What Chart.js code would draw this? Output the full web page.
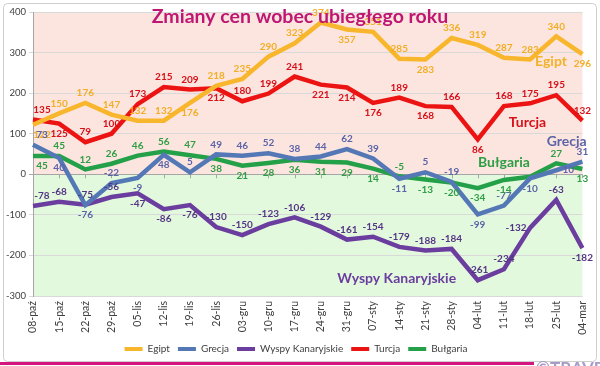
<!DOCTYPE html>
<html>
<head>
<meta charset="utf-8">
<script src="https://cdn.jsdelivr.net/npm/chart.js@4.4.1/dist/chart.umd.min.js"></script>
<style>
  html, body { margin: 0; padding: 0; background: #ffffff; }
  #wrap { width: 600px; height: 366px; position: relative; }
  canvas { display: block; }
</style>
</head>
<body>
<div id="wrap"><canvas id="c" width="600" height="366"></canvas></div>
<script>
// ---------- data ----------
const categories = ['08-paź','15-paź','22-paź','29-paź','05-lis','12-lis','19-lis','26-lis','03-gru','10-gru','17-gru','24-gru','31-gru','07-sty','14-sty','21-sty','28-sty','04-lut','11-lut','18-lut','25-lut','04-mar'];
const egipt    = [122,150,176,147,132,132,176,218,235,290,323,374,357,351,285,283,336,319,287,283,340,296];
const grecja   = [73,40,-76,-22,-9,48,5,49,46,52,38,44,62,39,-11,5,-19,-99,-77,-10,10,31];
const wyspy    = [-78,-68,-75,-56,-47,-86,-76,-130,-150,-123,-106,-129,-161,-154,-179,-188,-184,-261,-234,-132,-63,-182];
const turcja   = [135,125,79,100,173,215,209,212,180,199,241,221,214,176,189,168,166,86,168,175,195,132];
const bulgaria = [45,45,12,26,46,56,47,38,21,28,36,31,29,14,-5,-13,-20,-34,-14,-6,27,13];
const yTickValues = [400,300,200,100,0,-100,-200,-300];
const seriesNames = ['Egipt','Grecja','Wyspy Kanaryjskie','Turcja','Bułgaria'];
const titleText = 'Zmiany cen wobec ubiegłego roku';

// ---------- styling (not data) ----------
const FONT = 'Lato, "Open Sans", sans-serif';
const lineColors  = ['#F8B62C','#5478B6','#6A3D9E','#EC1313','#23A048'];
const labelColors = ['#F2AE25','#5B64A8','#553585','#D8101A','#2E9E45'];
// label placement: a=above, b=below, r=right, l=left, n=none
const labelPlace = [
  'baaaaabaaaaabaabaaaaab',
  'abbabbaaaaaaaabaababra',
  'aaaabbbaaaaaaaaaaaalab',
  'abaaaaabaaabbbababaaaa',
  'baaaaaabbbbbbbabbbbnab'
];
// in-plot series names, anchored in data space: [category index, value]
const nameAnchors = [
  {t:'Egipt', i:19.8, v:277, c:'#F2B22A'},
  {t:'Turcja', i:18.9, v:128, c:'#D8101A'},
  {t:'Grecja', i:20.4, v:80, c:'#5B64A8'},
  {t:'Bułgaria', i:18.0, v:28, c:'#2E9E45'},
  {t:'Wyspy Kanaryjskie', i:13.9, v:-258, c:'#6A3D9E'}
];

const allSeries = [egipt, grecja, wyspy, turcja, bulgaria];

const bgPlugin = {
  id: 'bg',
  beforeDraw(chart) {
    const {ctx, chartArea: a, scales: {y}} = chart;
    ctx.save();
    ctx.fillStyle = '#ffffff';
    ctx.fillRect(0, 0, chart.width, chart.height);
    const y0 = y.getPixelForValue(0);
    ctx.fillStyle = '#FDE5DF';
    ctx.fillRect(a.left, a.top, a.right - a.left, y0 - a.top);
    ctx.fillStyle = '#E3F9DE';
    ctx.fillRect(a.left, y0, a.right - a.left, a.bottom - y0);
    ctx.restore();
  },
  beforeDatasetsDraw(chart) {
    const {ctx, scales: {x, y}} = chart;
    const y0 = y.getPixelForValue(0);
    ctx.save();
    ctx.strokeStyle = '#a6a6a6';
    ctx.lineWidth = 1;
    ctx.beginPath();
    for (let i = 0; i < categories.length; i++) {
      const px = Math.round(x.getPixelForValue(i)) + 0.5;
      ctx.moveTo(px, y0);
      ctx.lineTo(px, y0 + 4);
    }
    ctx.stroke();
    ctx.restore();
  },
  afterDatasetsDraw(chart) {
    const {ctx, chartArea: a, scales: {x, y}} = chart;
    ctx.save();
    // value labels
    ctx.font = 'bold 10px ' + FONT;
    ctx.textAlign = 'center';
    ctx.textBaseline = 'middle';
    chart.data.datasets.forEach((ds, di) => {
      const meta = chart.getDatasetMeta(di);
      meta.data.forEach((pt, j) => {
        const p = labelPlace[di][j];
        if (p === 'n') return;
        let lx = pt.x, ly = pt.y;
        if (p === 'a') ly -= 10;
        else if (p === 'b') ly += 10;
        else if (p === 'r') lx += 12;
        else if (p === 'l') lx -= 14;
        lx = Math.max(lx, a.left + 9);
        lx = Math.min(lx, a.right + 1);
        ctx.fillStyle = labelColors[di];
        ctx.fillText(String(ds.data[j]), lx, ly);
      });
    });
    // series names inside plot
    ctx.font = 'bold 14px ' + FONT;
    nameAnchors.forEach(n => {
      ctx.fillStyle = n.c;
      ctx.fillText(n.t, x.getPixelForValue(n.i), y.getPixelForValue(n.v));
    });
    // title
    ctx.font = 'bold 19.5px ' + FONT;
    ctx.fillStyle = '#BE1673';
    ctx.textBaseline = 'alphabetic';
    ctx.fillText(titleText, 300, 23);
    ctx.restore();
  },
  afterDraw(chart) {
    const {ctx} = chart;
    ctx.save();
    ctx.strokeStyle = '#cfcfcf';
    ctx.lineWidth = 1;
    ctx.beginPath();
    if (ctx.roundRect) ctx.roundRect(3.5, 3.5, 593, 358, 4); else ctx.rect(3.5, 3.5, 593, 358);
    ctx.stroke();
    ctx.fillStyle = '#D4177F';
    ctx.fillRect(0, 362, 534, 3);
    ctx.font = 'bold 17px ' + FONT;
    ctx.fillStyle = '#A99BC8';
    ctx.textAlign = 'left';
    ctx.textBaseline = 'top';
    ctx.fillText('©TRAVEL', 536, 360);
    ctx.restore();
  }
};

const datasets = allSeries.map((d, i) => ({
  label: seriesNames[i],
  data: d,
  borderColor: lineColors[i],
  backgroundColor: lineColors[i],
  borderWidth: 4.5,
  pointRadius: 0,
  tension: 0,
  fill: false
}));

new Chart(document.getElementById('c'), {
  type: 'line',
  data: { labels: categories, datasets },
  options: {
    responsive: false,
    animation: false,
    devicePixelRatio: 1,
    layout: { padding: { left: 4, right: 12, top: 12, bottom: 2 } },
    plugins: {
      legend: {
        position: 'bottom',
        labels: {
          font: { family: FONT, size: 10 },
          color: '#404040',
          boxWidth: 18,
          boxHeight: 4,
          padding: 8,
          generateLabels(chart) {
            return chart.data.datasets.map((ds, i) => ({
              text: ds.label,
              fillStyle: ds.borderColor,
              strokeStyle: ds.borderColor,
              lineWidth: 0,
              hidden: false,
              datasetIndex: i,
              fontColor: '#404040'
            }));
          }
        }
      },
      title: { display: false },
      tooltip: { enabled: false }
    },
    scales: {
      x: {
        offset: false,
        grid: { display: false, drawTicks: false },
        border: { display: false },
        ticks: {
          autoSkip: false, maxRotation: 90, minRotation: 90,
          font: { family: FONT, size: 10.5 }, color: '#404040', padding: 5
        },
        afterFit(s) { s.height = 40; }
      },
      y: {
        min: -300, max: 400,
        afterBuildTicks(s) { s.ticks = yTickValues.map(v => ({ value: v })); },
        ticks: { font: { family: FONT, size: 9.5 }, color: '#404040', padding: 3 },
        grid: {
          color: c => (c.tick && c.tick.value === 0) ? '#a6a6a6' : '#d9d9d9',
          tickLength: 4
        },
        border: { display: true, color: '#a6a6a6' },
        afterFit(s) { s.width = 29; }
      }
    }
  },
  plugins: [bgPlugin]
});
</script>
</body>
</html>
